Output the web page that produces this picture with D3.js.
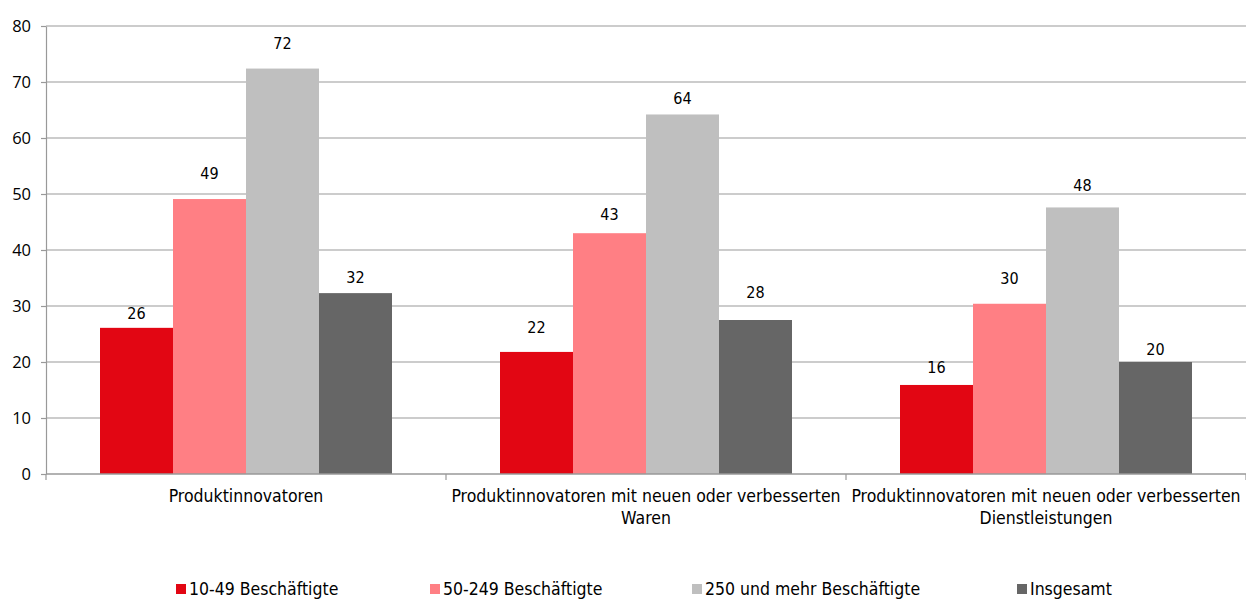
<!DOCTYPE html>
<html>
<head>
<meta charset="utf-8">
<script src="https://cdn.jsdelivr.net/npm/d3@7"></script>
<style>
  body { margin: 0; background: #fff; }
  text { font-family: "DejaVu Sans Condensed", "DejaVu Sans", sans-serif; fill: #000; }
</style>
</head>
<body>
<svg id="chart"></svg>
<script>
/* data */
var categories = [
    ["Produktinnovatoren"],
    ["Produktinnovatoren mit neuen oder verbesserten", "Waren"],
    ["Produktinnovatoren mit neuen oder verbesserten", "Dienstleistungen"]
];
var seriesNames = ["10-49 Beschäftigte", "50-249 Beschäftigte", "250 und mehr Beschäftigte", "Insgesamt"];
var seriesColors = ["#E20613", "#FF7F84", "#BFBFBF", "#666666"];
var small = [26.1, 21.8, 15.9];
var medium = [49.1, 43.0, 30.4];
var large = [72.4, 64.2, 47.6];
var total = [32.3, 27.5, 20.0];
var yTicks = [0, 10, 20, 30, 40, 50, 60, 70, 80];

var series = [small, medium, large, total];

/* layout: distance of each value label above its bar, per series */
var labelGap = [[9, 19, 12], [20, 13, 20], [20, 10, 16], [10, 22, 7]];

let width = 1246, height = 599;
let margin = { top: 26, right: 0, bottom: 125, left: 46 };
let innerW = width - margin.left - margin.right;
let innerH = height - margin.top - margin.bottom;

let svg = d3.select("#chart").attr("width", width).attr("height", height);
let g = svg.append("g").attr("transform", `translate(${margin.left}, ${margin.top})`);

let xScale = d3.scaleBand().domain(d3.range(categories.length)).range([0, innerW]).paddingInner(0).paddingOuter(0);
let inner = d3.scaleBand().domain(d3.range(series.length)).range([54, xScale.bandwidth() - 54]);
let yScale = d3.scaleLinear().domain([0, 80]).range([innerH, 0]);

/* grid */
g.selectAll("line.grid")
    .data(yTicks.slice(1))
    .join("line")
    .attr("class", "grid")
    .attr("x1", 0).attr("x2", innerW)
    .attr("y1", d => yScale(d)).attr("y2", d => yScale(d))
    .attr("stroke", "#999").attr("stroke-width", 1.2);

/* bars */
series.forEach(function(s, si){
    g.selectAll("rect.s" + si)
        .data(s)
        .join("rect")
        .attr("class", "s" + si)
        .attr("x", (d, i) => xScale(i) + inner(si))
        .attr("y", d => yScale(d))
        .attr("width", inner.bandwidth())
        .attr("height", d => innerH - yScale(d))
        .attr("fill", seriesColors[si]);

    g.selectAll("text.l" + si)
        .data(s)
        .join("text")
        .attr("class", "l" + si)
        .attr("x", (d, i) => xScale(i) + inner(si) + inner.bandwidth() / 2)
        .attr("y", (d, i) => yScale(d) - labelGap[si][i])
        .attr("text-anchor", "middle")
        .style("font-size", "16px")
        .text(d => Math.round(d));
});

/* y axis */
let yAxis = g.append("g")
    .call(d3.axisLeft(yScale).tickValues(yTicks).tickSize(5).tickSizeOuter(0).tickPadding(10));
yAxis.select(".domain").attr("stroke", "#999").attr("stroke-width", 1.2);
yAxis.selectAll(".tick line").attr("stroke", "#999").attr("stroke-width", 1.2);
yAxis.selectAll(".tick text")
    .style("font-family", "'Open Sans', sans-serif")
    .style("font-size", "16.5px")
    .attr("fill", "#000");

/* x axis */
let xAxisG = g.append("g").attr("transform", `translate(0, ${innerH})`);
xAxisG.append("line").attr("x1", 0).attr("x2", innerW).attr("stroke", "#999").attr("stroke-width", 1.5);
xAxisG.selectAll("line.xt")
    .data(d3.range(categories.length + 1))
    .join("line")
    .attr("class", "xt")
    .attr("x1", d => d * xScale.step()).attr("x2", d => d * xScale.step())
    .attr("y1", 0).attr("y2", 6)
    .attr("stroke", "#999").attr("stroke-width", 1.2);

categories.forEach(function(lines, i){
    let t = xAxisG.append("text")
        .attr("x", xScale(i) + xScale.bandwidth() / 2)
        .attr("y", 28)
        .attr("text-anchor", "middle")
        .style("font-size", "17.5px");
    lines.forEach(function(line, li){
        t.append("tspan")
            .attr("x", xScale(i) + xScale.bandwidth() / 2)
            .attr("dy", li === 0 ? 0 : 22)
            .text(line);
    });
});

/* legend */
let legendX = [176, 430, 692, 1017];
let legend = svg.append("g").attr("transform", "translate(0, 584)");
seriesNames.forEach(function(name, i){
    legend.append("rect")
        .attr("x", legendX[i]).attr("y", 0)
        .attr("width", 10).attr("height", 10)
        .attr("fill", seriesColors[i]);
    legend.append("text")
        .attr("x", legendX[i] + 13).attr("y", 11)
        .style("font-size", "17.5px")
        .text(name);
});
</script>
</body>
</html>
